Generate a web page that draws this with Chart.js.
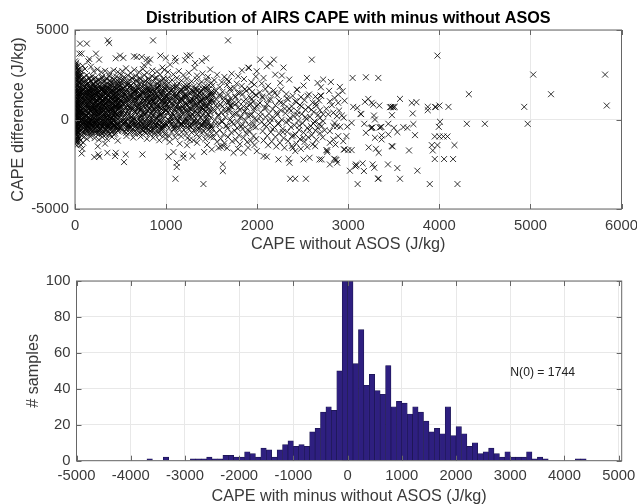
<!DOCTYPE html>
<html>
<head>
<meta charset="utf-8">
<title>AIRS CAPE</title>
<script src="https://cdn.jsdelivr.net/npm/chart.js@4"></script>
<style>
html, body { margin: 0; padding: 0; background: #fff; overflow: hidden; }
canvas { position: absolute; left: 0; }
#scatterChart { top: 0; }
#histChart { top: 250px; }
</style>
</head>
<body>
<canvas id="scatterChart" width="637" height="254"></canvas>
<canvas id="histChart" width="637" height="256"></canvas>
<script>
// scatter: x,y pairs (x = CAPE without ASOS, y = difference)
// the black columns/cloud can't be told apart one by one, so those are estimates of its spread
const pointsNearZero = [
0,3250,8,3100,3,2950,14,3180,22,2900,5,2780,30,3000,11,2650,40,2820,2,2520,18,2450,33,2600,48,2700,7,2350,26,2250,55,2480,1,2180,15,2100,38,2300,44,2050,9,1950,24,1880,52,2150,4,1800,31,1720,60,1980,12,1650,41,1600,20,1530,6,1450,35,1420,56,1750,2,1320,28,1280,47,1350,16,1180,10,1100,39,1120,58,1450,3,1020,25,980,50,1050,13,900,33,860,7,780,44,800,19,700,1,650,55,720,29,600,11,520,37,480,5,400,48,440,22,350,60,380,15,260,2,180,34,210,42,120,8,60,26,20,53,90,17,-60,4,-120,38,-150,12,-230,30,-280,49,-210,6,-350,21,-420,58,-330,1,-500,35,-520,14,-600,43,-570,9,-680,27,-720,3,-800,18,-860,52,-640,36,-900,7,-980,24,-1030,11,-1120,2,-1210,16,-1290,30,-1160,5,-1380,20,-1450,46,-1050,
6,3020,17,2860,27,2740,10,2580,36,2430,3,2290,21,2160,46,2420,13,2010,29,1930,0,1860,37,1790,8,1690,23,1610,49,1540,4,1500,16,1390,32,1330,54,1240,10,1230,25,1110,42,1030,1,950,18,850,36,790,6,740,27,670,46,610,12,570,32,430,3,310,20,230,52,270,9,150,40,50,14,-20,28,-100,1,-210,45,-90,19,-330,8,-470,33,-400,24,-560,4,-650,39,-750,15,-790,30,-950,10,-1060,22,-1240,1,-1080,
12,1510,34,1480,5,1260,19,1040,43,940,9,830,28,740,2,590,17,470,35,330,6,240,24,110,47,-30,13,-170,31,-240,3,-430,41,-460,21,-640,7,-860,
];
const pointsTo500 = [
73,3680,48,3680,55,4240,130,4240,230,3680,264,3345,157,3380,146,3250,360,4420,375,4275,447,3420,495,3570,
85,3000,110,2820,72,2700,175,2950,205,2700,245,2800,290,2650,330,2720,380,2600,425,2750,470,2660,
65,2460,98,2380,130,2480,160,2300,190,2420,225,2340,262,2230,300,2400,342,2290,375,2440,410,2330,452,2400,490,2280,
68,2200,92,2100,118,2180,144,2040,172,2120,200,2000,232,2170,268,2050,310,2130,350,2010,388,2150,428,2060,465,2190,
75,1960,105,1880,135,1990,165,1850,195,1930,220,1800,250,1950,285,1830,320,1920,358,1790,395,1900,440,1840,480,1960,
63,1780,88,1700,122,1770,150,1660,182,1740,212,1640,240,1720,275,1600,305,1690,338,1620,372,1750,408,1650,448,1720,492,1610,
70,1560,100,1500,128,1570,158,1470,188,1530,218,1430,248,1510,280,1400,315,1500,345,1440,382,1550,418,1460,458,1520,
62,1380,95,1320,125,1370,152,1280,180,1350,210,1250,242,1330,272,1220,302,1300,335,1260,368,1360,402,1270,438,1330,475,1240,
78,1190,108,1140,138,1200,168,1100,198,1170,228,1080,258,1150,290,1060,322,1140,355,1090,390,1170,425,1100,462,1160,498,1070,
66,1020,96,970,126,1030,155,950,185,1000,215,930,245,990,278,910,310,970,342,920,378,1010,412,940,450,990,485,900,
72,860,102,810,132,870,162,790,192,840,222,770,252,830,284,750,318,820,350,770,384,850,420,780,455,830,494,760,
64,720,94,670,124,730,154,650,184,700,214,630,244,690,276,610,306,680,338,640,372,710,406,640,442,690,480,620,
76,580,106,530,136,590,166,510,196,560,226,490,256,550,288,470,320,540,352,500,386,570,422,510,460,560,
62,440,92,400,122,450,152,380,182,420,212,360,242,410,274,340,304,400,336,360,370,430,404,370,440,420,478,350,
80,310,110,270,140,320,170,250,200,290,230,230,260,280,292,210,324,270,356,230,390,300,426,240,464,290,
68,180,98,140,128,190,158,120,188,160,218,100,248,150,280,80,312,140,344,100,378,170,412,110,448,160,486,90,
74,50,104,10,134,60,164,-10,194,30,224,-30,254,20,286,-50,318,10,350,-30,384,40,418,-20,456,30,
66,-80,96,-120,126,-70,156,-140,186,-100,216,-160,246,-110,278,-180,310,-120,342,-170,376,-100,410,-160,446,-110,484,-190,
78,-210,108,-260,138,-200,168,-280,198,-230,228,-300,258,-240,290,-320,322,-260,354,-310,388,-240,424,-300,462,-250,
70,-350,100,-400,130,-340,160,-420,190,-370,220,-440,250,-390,282,-470,314,-410,346,-460,380,-390,416,-450,454,-400,492,-470,
76,-520,112,-570,142,-510,176,-590,206,-540,238,-610,268,-560,300,-640,332,-590,364,-650,398,-580,436,-640,476,-570,
84,-700,118,-760,152,-690,186,-780,222,-730,262,-810,296,-760,340,-840,380,-780,430,-850,
70,-900,96,-990,128,-1080,60,-1180,90,-1290,170,-960,215,-1040,262,-1130,300,-990,350,-1080,405,-970,
64,-1420,73,-1900,80,-1640,212,-2100,256,-1950,267,-2080,355,-1860,440,-2045,448,-1860,250,-1500,330,-1350,470,-1180,
];
const pointsTo1000 = [
538,-2380,557,-1950,740,-1950,648,3530,678,3495,733,3495,788,3380,824,3345,806,3160,758,3030,857,4420,938,3570,996,3440,531,3440,
520,2700,560,2860,610,2600,650,2780,700,2650,745,2820,790,2620,850,2740,900,2680,960,2900,980,2780,
505,2500,540,2380,580,2460,625,2310,668,2420,712,2330,760,2480,805,2300,845,2430,892,2340,935,2510,975,2290,
515,2180,555,2100,598,2200,642,2060,685,2150,730,2040,772,2170,815,2030,860,2120,905,2010,950,2160,990,2050,
502,1930,545,1860,588,1960,632,1820,675,1910,720,1790,765,1900,808,1770,852,1870,898,1750,942,1890,985,1780,
525,1700,568,1630,612,1720,655,1590,698,1680,742,1570,785,1670,830,1550,875,1640,920,1540,965,1650,
510,1500,552,1430,595,1510,638,1400,682,1480,725,1380,770,1460,812,1360,858,1440,902,1340,948,1430,992,1330,
530,1290,572,1220,616,1300,660,1190,702,1270,748,1170,792,1250,838,1150,882,1230,928,1130,972,1220,
506,1100,548,1030,590,1110,635,1000,678,1080,722,980,768,1060,810,960,855,1040,900,940,945,1030,988,930,
526,890,570,820,614,900,656,790,700,870,744,770,788,850,834,750,878,830,924,740,968,820,
512,700,554,630,598,710,640,600,684,680,728,580,774,660,818,560,862,640,908,550,952,630,996,540,
532,500,575,430,618,510,662,400,706,480,750,380,796,460,840,360,886,440,930,350,975,430,
508,310,550,240,592,320,636,210,680,290,724,190,770,270,814,170,858,250,904,160,948,240,992,150,
528,110,572,40,616,120,658,10,702,90,746,-10,790,70,836,-30,880,50,926,-40,970,40,
514,-90,556,-160,600,-80,642,-190,686,-110,732,-210,776,-130,820,-230,866,-150,912,-240,956,-160,998,-250,
534,-290,578,-360,622,-280,664,-390,708,-310,752,-410,798,-330,842,-430,888,-350,934,-440,978,-360,
518,-480,560,-550,604,-470,648,-580,692,-500,738,-600,782,-520,828,-620,872,-540,918,-640,962,-560,
545,-680,600,-730,655,-660,710,-770,765,-700,822,-810,875,-740,930,-850,985,-780,
565,-920,640,-1010,720,-950,790,-1080,860,-1020,925,-1160,990,-1060,
];
const pointsTo1500 = [
1081,-1820,1026,-2080,1117,-2416,1117,-2658,1103,-3310,1190,-1950,1190,-2137,1289,-2045,1410,-3606,1418,-1820,
1099,3440,1106,3250,1044,3067,1209,3310,1227,3570,1264,3590,1392,3270,1440,3420,1319,3160,1311,2880,1484,2790,
1020,2650,1080,2520,1140,2700,1190,2480,1250,2610,1340,2450,1400,2560,1460,2380,
1015,2300,1065,2210,1118,2320,1170,2170,1225,2260,1280,2130,1335,2240,1390,2100,1445,2200,1495,2060,
1030,2020,1085,1920,1140,2030,1195,1880,1250,1970,1305,1850,1360,1950,1415,1810,1470,1920,
1010,1790,1062,1690,1115,1780,1168,1650,1222,1740,1278,1610,1332,1710,1388,1580,1442,1680,1498,1550,
1035,1540,1090,1440,1145,1520,1200,1400,1255,1490,1310,1370,1365,1460,1420,1340,1475,1430,
1012,1300,1066,1210,1120,1290,1174,1170,1228,1260,1284,1140,1338,1230,1394,1110,1448,1200,1500,1080,
1040,1070,1095,980,1150,1060,1205,950,1260,1030,1315,920,1370,1010,1425,890,1480,970,
1018,850,1072,760,1126,840,1180,730,1234,810,1290,700,1344,790,1400,670,1454,760,
1045,630,1100,540,1155,620,1210,510,1265,590,1320,480,1375,570,1430,450,1485,540,
1022,400,1076,320,1130,390,1184,290,1238,370,1294,260,1348,350,1404,230,1458,320,
1050,180,1105,100,1160,170,1215,70,1270,150,1325,40,1380,130,1435,10,1490,100,
1026,-40,1080,-110,1134,-50,1188,-140,1242,-70,1298,-170,1352,-90,1408,-200,1462,-110,
1055,-260,1110,-330,1165,-270,1220,-360,1275,-290,1330,-390,1385,-310,1440,-420,1495,-330,
1030,-480,1085,-550,1140,-490,1195,-580,1250,-510,1305,-610,1360,-530,1415,-640,1470,-550,
1060,-700,1115,-770,1170,-710,1225,-800,1280,-730,1335,-830,1390,-750,1445,-860,1498,-770,
1035,-930,1100,-1000,1165,-940,1235,-1040,1260,-1130,1300,-1160,1365,-1010,1430,-1100,1490,-980,
1040,-1250,1150,-1350,1230,-1440,1340,-1300,1450,-1420,
];
const pointsTo2000 = [
1623,-2510,1623,-2880,1502,-1673,1575,-1580,1630,-1487,1740,-1860,1850,-1860,1996,-1766,1680,4420,
2033,3345,1901,2900,1910,2880,1832,2750,1996,2695,1791,2416,1667,2230,1560,2500,1640,2380,1720,2560,
1530,2200,1610,2090,1690,2150,1775,2010,1855,2260,1935,2080,1985,2400,
1510,1900,1590,1810,1670,1930,1750,1760,1830,1870,1915,1720,1970,1950,
1540,1640,1620,1550,1700,1660,1785,1500,1865,1690,1945,1530,
1515,1380,1595,1290,1680,1400,1760,1250,1840,1420,1925,1240,1990,1360,
1550,1150,1630,1060,1710,1170,1690,1020,1795,990,1875,1130,1955,1000,
1520,920,1600,830,1685,940,1700,760,1710,770,1770,880,1850,720,1930,860,1995,740,
1560,690,1640,600,1720,700,1805,540,1885,660,1965,500,
1530,450,1610,370,1695,470,1775,330,1860,440,1940,290,
1570,210,1650,130,1730,230,1815,90,1895,200,1975,60,
1540,-30,1620,-110,1705,-10,1785,-150,1870,-40,1950,-190,
1580,-270,1660,-340,1740,-250,1825,-390,1905,-290,1985,-430,
1510,-510,1590,-580,1675,-490,1755,-630,1840,-530,1920,-670,
1550,-750,1630,-820,1715,-730,1800,-880,1880,-770,1960,-920,
1520,-1000,1600,-1070,1680,-980,1765,-1130,1850,-1020,1930,-1180,1990,-1090,
1560,-1240,1640,-1320,1725,-1220,1810,-1380,1890,-1260,1970,-1430,
1600,-1520,1670,-1600,1790,-1640,1900,-1570,
];
const pointsTo2700 = [
2070,-2045,2106,-2080,2234,-2230,2344,-2193,2355,-2416,2363,-3310,2418,-3310,2535,-3310,2509,-2230,2575,-2137,2685,-2230,2637,-1487,2418,-1766,2390,-1600,
2143,3120,2183,3345,2106,2970,2289,2900,2600,3345,2352,2230,2546,2323,2663,2045,2436,1673,2440,1660,2509,1896,2070,2323,2198,2509,2271,2453,2253,2045,2264,1673,
2050,2010,2120,1880,2090,1700,2180,1620,2030,1520,2130,1440,2220,1350,2320,1420,2390,1320,2480,1250,2570,1400,2640,1280,
2060,1210,2150,1120,2240,1040,2340,1120,2430,980,2520,1080,2610,940,2680,1060,
2030,930,2110,860,2200,790,2290,880,2380,730,2470,810,2560,680,2650,770,
2080,640,2170,580,2260,510,2350,610,2440,460,2530,550,2620,420,2690,520,
2040,400,2130,330,2220,260,2310,350,2400,200,2490,300,2580,150,2670,260,
2090,130,2180,70,2270,-10,2360,90,2450,-60,2540,40,2630,-110,
2050,-130,2140,-190,2230,-260,2320,-150,2410,-320,2500,-210,2590,-370,2680,-260,
2100,-390,2190,-450,2280,-520,2370,-420,2460,-580,2550,-470,2640,-620,
2060,-650,2150,-710,2240,-780,2330,-680,2420,-840,2510,-730,2600,-880,2690,-770,
2110,-910,2200,-970,2290,-1040,2380,-940,2470,-1090,2560,-990,2650,-1130,
2070,-1170,2160,-1230,2250,-1300,2340,-1210,2430,-1350,2520,-1250,2610,-1390,
2120,-1440,2210,-1510,2300,-1580,2380,-1480,2480,-1640,2550,-1530,
];
const pointsRight = [
3979,3570,5031,2510,5820,2510,5226,1413,5838,780,4324,1413,4932,706,4970,-240,4500,-240,4302,-240,4100,706,4001,780,3953,706,3960,690,3873,706,3873,520,4008,-130,3994,-410,
3950,-948,4001,-948,4045,-948,4089,-948,4166,-1431,3979,-1431,3917,-1431,3928,-1730,3950,-2210,4052,-2210,4151,-2210,3895,-3606,4199,-3606,3759,-2862,3667,-1730,3733,-874,3715,-260,3708,335,3697,930,3748,967,3568,1152,3568,-3310,3326,-3310,3334,-3290,3103,-3606,3539,-2713,3436,-2510,3268,-2510,3286,-2695,3158,-2453,3172,-2880,3084,-2510,3090,-2560,3078,-2620,3018,-2862,3334,-1860,3304,-1636,3224,-1561,3477,-1487,3488,-1510,3037,-1710,2952,-1673,3000,-1710,2857,-2230,2870,-2260,2845,-2190,2879,-2416,2798,-2510,2769,-1822,2760,-1710,
3048,2323,3194,2360,3330,2323,2725,2230,2809,2100,2908,1822,2938,1580,2890,1394,2798,1022,2890,930,2696,1338,2702,1325,3220,1152,3183,985,3257,930,3275,836,3341,780,3282,223,3293,0,3055,706,3099,650,3136,316,3142,300,3037,-186,3176,-240,3194,-743,3257,-465,3265,-440,3248,-480,3356,-428,3364,-410,3345,-450,3293,-1022,3366,-892,3366,-1115,3440,-240,3440,-836,3502,-465,3539,-706,3605,-428,3649,-465,3458,688,3470,700,3488,706,3497,680,3510,706,3480,242,
2725,290,2780,290,2836,380,2875,190,2930,225,2725,-90,2708,-370,2836,-370,2875,-370,2912,-410,2798,-650,2890,-930,2836,-1115,2798,-1300,2980,-930,2945,-1210,2960,-1670,2769,-1730,2708,-2230,2740,-600,2850,-200,2760,600,2820,800,2900,500,2950,100,2990,-400,2720,-1000,2860,-1400,2700,1800,2790,1600,2850,1200,2960,1050,
];
// more passes over the dark part of the cloud
const pointsCloudInner = [
57,1312,83,402,91,1733,104,-188,113,877,119,1466,127,243,133,-367,141,1098,149,1891,156,611,163,34,171,1247,178,-259,186,1604,194,733,201,1379,209,-72,217,512,224,1847,233,968,239,-411,247,297,255,1533,262,1121,271,673,279,-143,286,1688,293,411,301,1009,309,1342,317,-298,324,789,331,1776,339,158,347,1203,354,566,362,-466,369,1449,377,917,385,1958,392,72,401,644,409,1136,416,-231,423,1572,431,347,439,823,446,1294,453,-387,461,1063,469,1811,476,199,483,702,491,1411,499,-108,
61,743,77,1587,88,-46,97,1184,109,329,116,1942,124,-502,137,688,144,1403,152,-121,159,1016,167,1718,176,457,184,-338,191,1271,199,854,207,1997,215,124,222,618,229,1512,237,-223,244,1069,252,376,259,1783,268,-561,275,937,283,1328,291,88,298,1636,306,549,314,1158,321,-182,329,727,336,1919,344,261,351,1377,359,-407,367,1041,374,604,382,1694,389,-64,397,1226,404,459,412,1865,420,886,427,-318,435,1483,443,137,451,1098,458,668,466,-442,473,1614,481,318,489,954,496,1739,
58,2037,81,2216,103,1349,117,2088,135,1827,148,2311,161,1571,174,2173,189,1292,203,2252,219,1669,231,2064,243,1418,257,2196,269,1883,282,1159,296,2318,311,1752,326,2142,340,1486,355,2261,368,1037,383,1906,396,2098,413,1559,429,2207,444,1247,459,1979,474,2128,488,1631,
69,-612,86,-271,99,-739,114,-428,128,-668,143,-317,157,-803,172,-513,188,-696,205,-382,220,-621,236,-772,251,-344,265,-681,281,-527,297,-817,313,-409,327,-723,343,-588,358,-331,374,-846,391,-483,407,-692,424,-371,441,-781,457,-538,472,-652,487,-429,
503,1287,517,403,529,1744,541,-117,553,892,564,1533,577,212,589,-328,601,1061,613,1888,626,567,638,49,651,1203,663,-246,676,1621,689,748,701,1392,713,-88,727,521,739,1806,751,976,763,-417,776,306,787,1547,799,1112,811,662,824,-159,837,1673,849,424,861,997,873,1351,886,-285,897,768,909,1754,921,171,934,1192,946,583,958,-459,971,1436,983,923,994,1938,
507,737,521,1568,533,-51,546,1176,558,337,571,1927,583,-497,596,694,608,1416,619,-133,632,1023,644,1706,657,463,669,-347,681,1264,694,861,707,1983,719,113,731,627,744,1498,757,-214,769,1078,781,384,793,1791,806,-553,819,944,831,1319,843,96,856,1642,868,557,881,1149,893,-174,906,735,918,1902,931,254,943,1384,956,-398,968,1036,981,611,993,1687,
512,2047,534,2227,556,1341,579,2101,603,1836,627,2298,649,1583,672,2181,696,1285,718,2243,741,1662,764,2076,787,1428,809,2189,832,1891,854,1168,877,2307,899,1746,923,2133,947,1479,969,2269,991,1045,
516,-608,539,-274,563,-744,586,-419,611,-663,634,-321,658,-798,682,-508,705,-702,729,-379,753,-617,778,-768,802,-351,826,-674,849,-533,873,-811,897,-414,921,-729,946,-582,970,-338,993,-853,
1007,1268,1019,417,1033,1731,1046,-128,1058,881,1071,1524,1084,228,1097,-336,1109,1052,1122,1873,1135,578,1147,61,1161,1196,1173,-255,1186,1607,1199,757,1211,1383,1224,-96,1237,533,1249,1792,1262,985,1275,-425,1288,317,1301,1538,1313,1103,1326,671,1339,-167,1352,1659,1364,433,1377,1005,1391,1342,1403,-293,1416,779,1429,1741,1441,183,1455,1187,1468,592,1481,-467,1493,1427,
1013,687,1027,1493,1041,-63,1054,1123,1067,346,1081,1794,1093,-509,1107,703,1121,1372,1133,-141,1147,1014,1161,1635,1173,472,1187,-356,1201,1237,1213,869,1227,1897,1241,122,1253,636,1267,1441,1281,-222,1293,1087,1307,393,1321,1702,1333,-562,1347,952,1361,1288,1373,104,1387,1587,1401,566,1413,1138,1427,-183,1441,744,1453,1821,1467,263,1481,1355,1493,-406,
1503,1043,1518,618,1532,1511,1547,-241,1561,879,1576,271,1591,1398,1605,-93,1619,736,1634,1226,1649,429,1663,-362,1677,1067,1692,589,1707,1734,1721,-148,1736,902,1751,317,1764,1285,1779,-471,1794,673,1808,1492,1823,168,1837,-281,1852,1014,1866,456,1881,1601,1896,-579,1909,826,1924,234,1939,1137,1953,-384,1968,639,1983,1363,1997,-62,
2012,827,2034,184,2057,1283,2079,-296,2101,651,2124,1094,2146,29,2169,-538,2191,1472,2214,387,2236,-187,2259,942,2282,-703,2304,608,2326,1176,2349,-69,2371,488,2394,-892,2417,1021,2439,271,2462,-342,2484,735,2507,-1028,2529,132,2552,1327,2574,-608,2597,553,2619,-221,2642,903,2664,-467,2687,78,
];
const pointsCloudCore = [
63,1128,79,217,87,1651,101,638,111,-93,122,1274,131,846,139,1519,147,-214,154,392,165,1762,173,1003,183,-37,193,1437,202,692,211,258,221,1148,229,-156,238,1591,249,849,258,463,266,1289,277,-273,288,1723,295,583,304,1066,313,223,322,1466,333,-102,341,925,349,1629,357,347,366,-251,376,1102,384,779,393,1538,403,142,411,1321,419,-338,428,658,437,1814,445,1012,454,284,463,-166,471,1382,479,771,488,1176,497,431,
59,507,74,963,84,1442,93,-331,106,1061,115,188,126,1683,134,-411,142,774,151,1339,160,-68,169,1528,179,603,187,1151,196,-297,206,1819,214,398,223,981,232,-42,241,1394,250,719,260,1658,269,102,278,1218,287,-376,296,859,305,1571,315,317,323,-129,332,1087,342,653,350,1749,360,21,370,1351,379,-278,387,1188,396,534,406,909,415,1672,424,-92,433,1253,442,371,450,748,460,1546,470,-351,478,1129,486,616,495,1863,
503,983,515,286,526,1462,537,-187,549,1131,561,682,573,1677,585,-276,595,827,606,1311,618,151,629,-42,642,1558,653,441,665,1087,677,-308,688,1806,699,619,711,1224,723,-133,735,906,747,1443,759,274,771,-352,783,1172,795,751,807,1621,819,-61,830,1009,842,1388,853,519,865,-219,876,888,888,1502,901,78,913,1247,925,-314,937,672,949,1733,961,381,973,1117,985,-173,997,798,
511,1634,523,-233,536,867,548,1412,559,-96,571,1098,582,539,594,1783,605,-381,617,1204,628,702,640,1483,652,16,664,952,675,1652,686,-264,698,598,710,1341,722,271,734,-411,746,1131,758,846,770,1724,782,-19,794,507,805,1261,817,-302,829,1564,840,773,852,211,864,1038,875,-428,887,1423,899,617,911,1811,922,-87,935,926,948,304,959,1589,972,-243,984,1201,996,489,
1005,524,1017,1384,1029,-206,1042,996,1055,139,1068,1661,1079,-391,1091,808,1103,1267,1116,-28,1128,1473,1141,651,1153,-284,1166,1128,1178,367,1191,1758,1204,-141,1216,912,1229,1326,1242,243,1255,-372,1268,1039,1281,588,1294,1619,1306,-74,1319,843,1332,1201,1344,346,1357,-259,1370,1478,1383,691,1396,1077,1409,-418,1421,534,1434,1292,1447,58,1460,1663,1473,812,1486,-311,1497,1161,
1009,-301,1023,1117,1037,688,1050,1612,1062,-11,1075,1342,1088,523,1101,-438,1114,1184,1127,811,1139,201,1152,1571,1165,-219,1177,1046,1190,622,1203,1298,1216,-12,1228,1729,1241,441,1254,-331,1267,887,1280,1163,1292,74,1305,1503,1318,-187,1331,731,1343,1392,1356,268,1369,-477,1382,1068,1395,841,1408,1687,1420,-122,1433,462,1446,1233,1459,-251,1472,978,1484,389,1496,1548,
];
const scatterGroups = [pointsNearZero, pointsTo500, pointsTo1000, pointsTo1500, pointsTo2000, pointsTo2700, pointsRight, pointsCloudInner, pointsCloudCore];

const scatterXTicks = [0, 1000, 2000, 3000, 4000, 5000, 6000];
const scatterYTicks = [-5000, 0, 5000];

// histogram, bins are 100 J/kg wide, empty bins left out
const binEdges = [-3700,-3400,-2900,-2800,-2700,-2600,-2500,-2400,-2300,-2200,-2100,-2000,-1900,-1800,-1700,-1600,-1500,-1400,-1300,-1200,-1100,-1000,-900,-800,-700,-600,-500,-400,-300,-200,-100,0,100,200,300,400,500,600,700,800,900,1000,1100,1200,1300,1400,1500,1600,1700,1800,1900,2000,2100,2200,2300,2400,2500,2600,2700,2800,2900,3000,3100,3200,3300,3400,3500,3600,4200,4300];
const binCounts = [1,2,1,1,1,2,1,1,3,3,2,2,5,4,2,7,6,2,6,9,11,8,9,8,16,18,27,30,28,50,110,1744,54,73,42,48,39,37,53,30,33,32,26,30,27,22,16,18,15,30,14,19,15,8,10,4,5,7,4,2,5,2,2,2,5,1,2,1,1,1];
const histXTicks = [-5000,-4000,-3000,-2000,-1000,0,1000,2000,3000,4000,5000];
const histYTicks = [0,20,40,60,80,100];

const textColor = '#3a3a3a';
const fontFamily = '"Liberation Sans", Arial, sans-serif';

function toPoints(groups) {
    const out = [];
    groups.forEach(g => {
        for (let i = 0; i < g.length; i += 2) out.push({ x: g[i], y: g[i + 1] });
    });
    return out;
}

// box round the axes plus the inward ticks on all four sides
const boxTicks = {
    id: 'boxTicks',
    afterDatasetsDraw(chart) {
        const { ctx, chartArea: a, scales } = chart;
        ctx.save();
        ctx.strokeStyle = '#666';
        ctx.lineWidth = 1;
        ctx.strokeRect(a.left, a.top, a.right - a.left, a.bottom - a.top);
        ctx.beginPath();
        scales.x.ticks.forEach(t => {
            const px = Math.round(scales.x.getPixelForValue(t.value)) + 0.5;
            ctx.moveTo(px, a.bottom); ctx.lineTo(px, a.bottom - 5);
            ctx.moveTo(px, a.top); ctx.lineTo(px, a.top + 5);
        });
        scales.y.ticks.forEach(t => {
            const py = Math.round(scales.y.getPixelForValue(t.value)) + 0.5;
            ctx.moveTo(a.left, py); ctx.lineTo(a.left + 5, py);
            ctx.moveTo(a.right, py); ctx.lineTo(a.right - 5, py);
        });
        ctx.stroke();
        ctx.restore();
    }
};

const plotTitle = {
    id: 'plotTitle',
    afterDraw(chart) {
        const { ctx, chartArea: a } = chart;
        ctx.save();
        ctx.font = 'bold 16.2px ' + fontFamily;
        ctx.fillStyle = '#000';
        ctx.textAlign = 'center';
        ctx.textBaseline = 'middle';
        ctx.fillText('Distribution of AIRS CAPE with minus without ASOS', (a.left + a.right) / 2, 19);
        ctx.restore();
    }
};

const countLabel = {
    id: 'countLabel',
    afterDraw(chart) {
        const { ctx, scales } = chart;
        ctx.save();
        ctx.font = '12.2px ' + fontFamily;
        ctx.fillStyle = '#222';
        ctx.textBaseline = 'middle';
        ctx.fillText('N(0) = 1744', scales.x.getPixelForValue(3000), scales.y.getPixelForValue(49));
        ctx.restore();
    }
};

function axis(min, max, ticks, title, size, tickPad, titleTop) {
    return {
        type: 'linear',
        min: min,
        max: max,
        offset: false,
        afterBuildTicks: s => { s.ticks = ticks.map(v => ({ value: v })); },
        afterFit: s => {
            if (s.isHorizontal()) s.height = size; else s.width = size;
            // tick labels may run past the plot, keep the plot where it is
            s.paddingLeft = s.paddingRight = s.paddingTop = s.paddingBottom = 0;
        },
        grid: { color: '#e8e8e8', lineWidth: 1, drawTicks: false, offset: false },
        border: { display: false },
        ticks: {
            color: textColor,
            font: { family: fontFamily, size: 14.8 },
            padding: tickPad,
            autoSkip: false,
            maxRotation: 0,
            callback: v => String(v)
        },
        title: {
            display: true,
            text: title,
            color: textColor,
            font: { family: fontFamily, size: 16.2 },
            padding: { top: titleTop, bottom: 0 }
        }
    };
}

new Chart(document.getElementById('scatterChart'), {
    type: 'scatter',
    data: {
        datasets: [{
            data: toPoints(scatterGroups),
            pointStyle: 'crossRot',
            pointRadius: 4.2,
            pointBorderColor: '#000',
            pointBorderWidth: 0.8,
            showLine: false
        }]
    },
    options: {
        responsive: false,
        animation: false,
        layout: { padding: { right: 15.5, top: 30, left: 0, bottom: 0 } },
        plugins: { legend: { display: false }, tooltip: { enabled: false } },
        scales: {
            x: axis(0, 6000, scatterXTicks, 'CAPE without ASOS (J/kg)', 45, 8, 0),
            y: axis(-5000, 5000, scatterYTicks, 'CAPE difference (J/kg)', 75, 6, 9)
        }
    },
    plugins: [boxTicks, plotTitle]
});

new Chart(document.getElementById('histChart'), {
    type: 'bar',
    data: {
        datasets: [{
            data: binEdges.map((e, i) => ({ x: e + 50, y: binCounts[i] })),
            backgroundColor: '#2e1f80',
            borderColor: '#1c1650',
            borderWidth: 0.7,
            barPercentage: 1,
            categoryPercentage: 1
        }]
    },
    options: {
        responsive: false,
        animation: false,
        layout: { padding: { right: 15.3, top: 31, left: 0, bottom: 0 } },
        plugins: { legend: { display: false }, tooltip: { enabled: false } },
        scales: {
            x: axis(-5000, 5055, histXTicks, 'CAPE with minus without ASOS (J/kg)', 45.3, 6, 0),
            y: axis(0, 100, histYTicks, '# samples', 76.5, 6, 24)
        }
    },
    plugins: [boxTicks, countLabel]
});
</script>
</body>
</html>
